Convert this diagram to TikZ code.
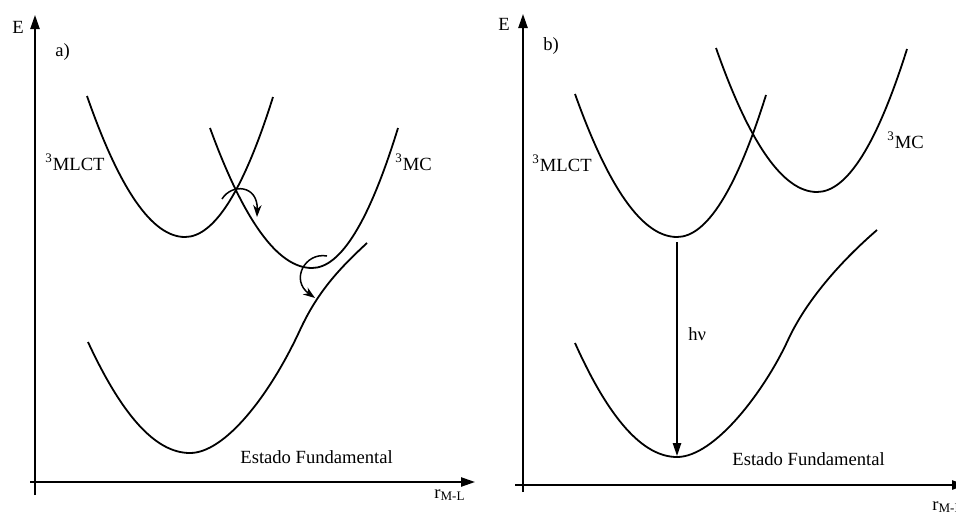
\documentclass[tikz,border=0pt]{standalone}
\usepackage{fontspec}
\setmainfont{Liberation Serif}
\usetikzlibrary{arrows.meta}
\begin{document}
\begin{tikzpicture}[x=0.5pt,y=-0.5pt,
  curve/.style={line width=0.9pt},
  axis/.style={line width=0.9pt,-{Triangle[length=7pt,width=4.6pt]}},
  bigarrow/.style={line width=0.75pt,-{Triangle[length=6.5pt,width=4.2pt]}},
  turnarrow/.style={line width=0.75pt,-{Stealth[length=6pt,width=4.2pt]}},
  lbl/.style={inner sep=0pt,anchor=base west,font=\fontsize{9.3}{11}\selectfont},
  lbe/.style={inner sep=0pt,anchor=base east,font=\fontsize{9.3}{11}\selectfont}]
\useasboundingbox (0,0) rectangle (956,514);
\clip (0,0) rectangle (956,514);
\fill[white] (0,0) rectangle (956,514);

% ---------- panel a ----------
\coordinate (ya0) at (35,495);
\coordinate (ya1) at (35,15);
\coordinate (xa0) at (30,482);
\coordinate (xa1) at (475,482);
\draw[axis] (ya0) -- (ya1);
\draw[axis] (xa0) -- (xa1);
\node[lbl] (Ea) at (12,33) {E};
\node[lbl] (la) at (55,56) {a)};
\node[lbl] (ra) at (434,498) {r\textsubscript{M-L}};

% 3MLCT a
\draw[curve] (87,96) .. controls (119.7,190) and (152.3,237) .. (185,237)
  .. controls (214.3,237) and (243.7,190.3) .. (273,97);
% 3MC a
\draw[curve] (210,128) .. controls (244,221.3) and (278,268) .. (312,268)
  .. controls (340.7,268) and (369.3,221.3) .. (398,128);
% ground a
\draw[curve] (88,342) .. controls (122.3,416) and (155.7,453) .. (190,453)
  .. controls (225,453) and (270,395) .. (300,330)
  .. controls (318,291) and (340,268) .. (367,243);

\node[lbl] (mlcta) at (45,170) {\textsuperscript{3}MLCT};
\node[lbl] (mca) at (395,170) {\textsuperscript{3}MC};
\node[lbl] (gsa) at (240,463) {Estado Fundamental};

\coordinate (t1s) at (222,199);
\coordinate (t1e) at (257,217);
\draw[turnarrow] (t1s) .. controls (232,183) and (258,185) .. (t1e);
\coordinate (t2s) at (327,256);
\coordinate (t2e) at (315,298);
\draw[turnarrow] (t2s) .. controls (305,252) and (290,280) .. (t2e);

% ---------- panel b ----------
\coordinate (yb0) at (523,492);
\coordinate (yb1) at (523,14);
\coordinate (xb0) at (515,485);
\coordinate (xb1) at (966,485);
\draw[axis] (yb0) -- (yb1);
\draw[axis] (xb0) -- (xb1);
\node[lbl] (Eb) at (498,30) {E};
\node[lbl] (lb) at (543,50) {b)};
\node[lbl] (rb) at (932,510) {r\textsubscript{M-L}};

% 3MLCT b
\draw[curve] (575,94) .. controls (609,189.3) and (643,237) .. (677,237)
  .. controls (706.7,237) and (736.3,189.7) .. (766,95);
% 3MC b
\draw[curve] (716,48) .. controls (749.7,144) and (783.3,192) .. (817,192)
  .. controls (847,192) and (877,144.3) .. (907,49);
% ground b
\draw[curve] (575,343) .. controls (609,419) and (643,457) .. (677,457)
  .. controls (715,457) and (765,390) .. (788,340)
  .. controls (806,301) and (840,262) .. (877,230);

\node[lbe] (mlctb) at (592,171) {\textsuperscript{3}MLCT};
\node[lbl] (mcb) at (887,148) {\textsuperscript{3}MC};
\node[lbl] (gsb) at (732,465) {Estado Fundamental};

\coordinate (hvs) at (677,242);
\coordinate (hve) at (677,456);
\draw[bigarrow] (hvs) -- (hve);
\node[lbl] (hv) at (688,340) {hν};
\end{tikzpicture}
\end{document}
